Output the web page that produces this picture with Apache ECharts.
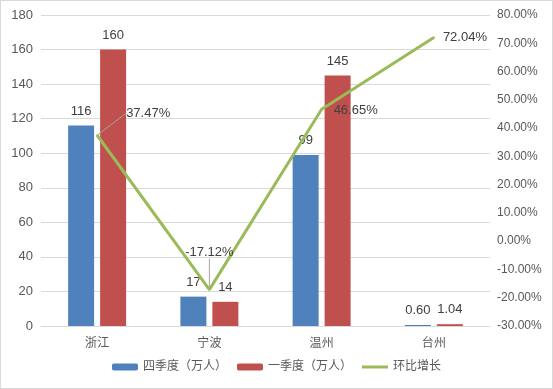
<!DOCTYPE html>
<html><head><meta charset="utf-8">
<script src="https://cdn.jsdelivr.net/npm/echarts@6/dist/echarts.min.js"></script>
<style>html,body{margin:0;padding:0;background:#fff}#c{width:553px;height:389px;box-sizing:border-box;border:1px solid #d9d9d9}</style>
</head><body><div id="c"></div>
<script>
const categories = ['浙江', '宁波', '温州', '台州'];
const q4Values = [116, 17, 99, 0.60];
const q1Values = [160, 14, 145, 1.04];
const growthValues = [37.47, -17.12, 46.65, 72.04];
const seriesNames = ['四季度（万人）', '一季度（万人）', '环比增长'];

const FONT = "'Liberation Sans','Noto Sans CJK SC',sans-serif";
const chart = echarts.init(document.getElementById('c'));
const lineLabelMoves = [{dx: 22, dy: -22}, {dx: 0, dy: -24}, {dx: 5, dy: 1}, {dx: 2, dy: 0}];
const lineLabelPos = ['right', 'top', 'right', 'right'];
const barLabelFmt = p => (p.value < 10 && p.value % 1 !== 0) ? p.value.toFixed(2) : String(p.value);
chart.setOption({
  animation: false,
  textStyle: {fontFamily: FONT},
  grid: {left: 40, right: 62, top: 14, bottom: 62},
  legend: {
    bottom: 10, left: 'center', itemWidth: 26, itemHeight: 7, itemGap: 10,
    textStyle: {color: '#595959', fontSize: 12, fontFamily: FONT},
    data: [seriesNames[0], seriesNames[1], {name: seriesNames[2], icon: 'path://M0 0H26V3H0Z'}]
  },
  xAxis: {
    type: 'category', data: categories,
    axisLine: {lineStyle: {color: '#d9d9d9'}},
    axisTick: {show: false},
    axisLabel: {color: '#595959', fontSize: 12, margin: 12}
  },
  yAxis: [
    {type: 'value', min: 0, max: 180, interval: 20,
     axisLine: {show: false}, axisTick: {show: false},
     axisLabel: {color: '#595959', fontSize: 13, margin: 8},
     splitLine: {lineStyle: {color: '#d9d9d9'}}},
    {type: 'value', min: -30, max: 80, interval: 10,
     axisLine: {show: false}, axisTick: {show: false},
     axisLabel: {color: '#595959', fontSize: 12, margin: 7, formatter: v => v.toFixed(2) + '%'},
     splitLine: {show: false}}
  ],
  series: [
    {name: seriesNames[0], type: 'bar', data: q4Values, barWidth: 26, barGap: '23%',
     itemStyle: {color: '#4F81BD'},
     label: {show: true, position: 'top', distance: 8, color: '#404040', fontSize: 13, formatter: barLabelFmt}},
    {name: seriesNames[1], type: 'bar', data: q1Values, barWidth: 26,
     itemStyle: {color: '#C0504D'},
     label: {show: true, position: 'top', distance: 8, color: '#404040', fontSize: 13, formatter: barLabelFmt}},
    {name: seriesNames[2], type: 'line', yAxisIndex: 1,
     data: growthValues.map((v, i) => ({
       value: v,
       label: {position: lineLabelPos[i]},
       labelLine: {show: i < 2, lineStyle: {color: '#a6a6a6', width: 1}}
     })),
     symbol: 'circle', symbolSize: 2, showSymbol: true,
     lineStyle: {color: '#9BBB59', width: 3}, itemStyle: {color: '#9BBB59'},
     label: {show: true, distance: 6, color: '#404040', fontSize: 13,
             formatter: p => p.value.toFixed(2) + '%'},
     labelLayout: p => lineLabelMoves[p.dataIndex]}
  ]
});
</script></body></html>
